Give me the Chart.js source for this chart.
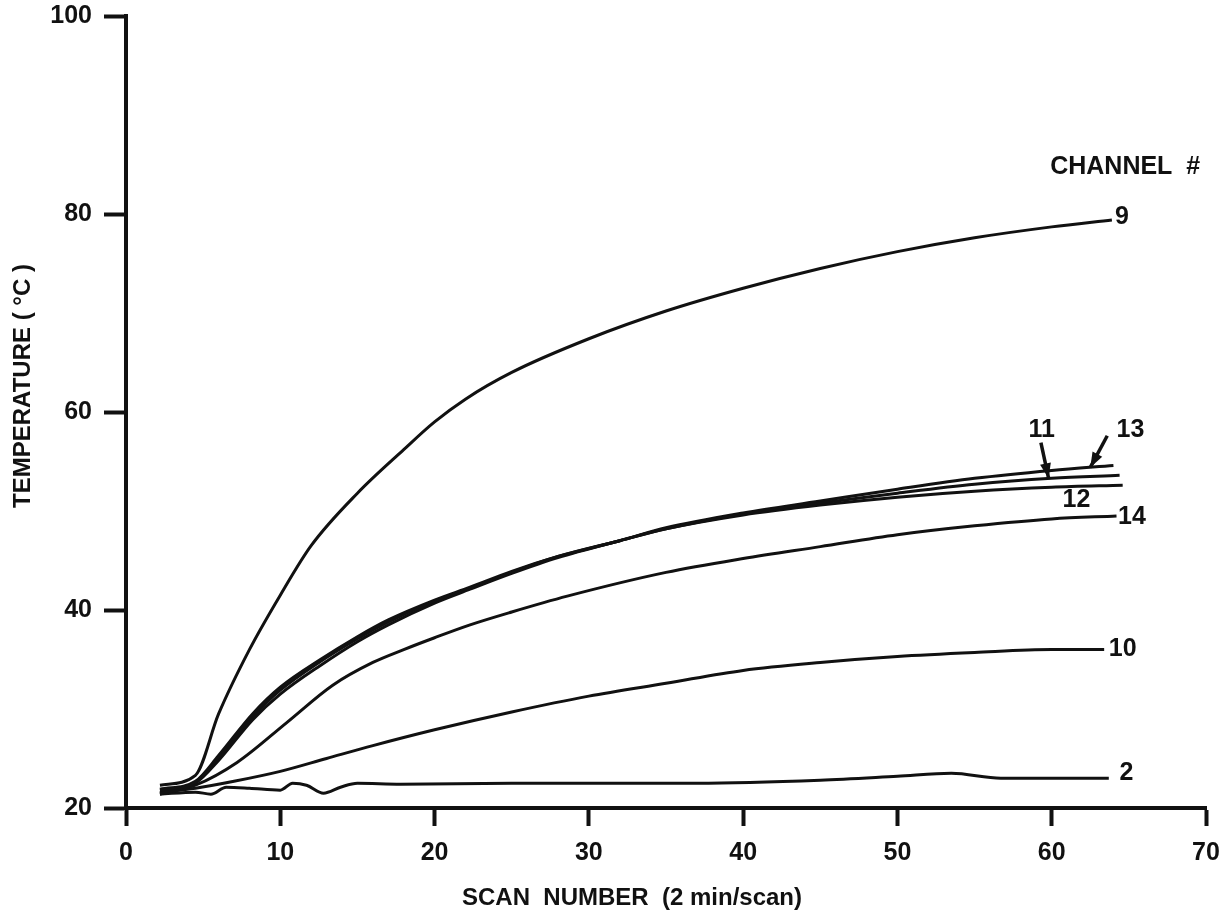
<!DOCTYPE html>
<html>
<head>
<meta charset="utf-8">
<script src="https://cdn.jsdelivr.net/npm/chart.js@4.4.1/dist/chart.umd.min.js"></script>
<style>
  html, body { margin: 0; padding: 0; background: #fff; }
  #wrap { width: 1228px; height: 923px; }
</style>
</head>
<body>
<div id="wrap"><canvas id="scanChart"></canvas></div>
<script>
// scan number (x) and temperature (y), one pair of arrays per channel
const ch9Scan  = [2.2, 4.5, 6, 8, 10, 12, 15, 18, 20, 22, 25, 30, 35, 40, 45, 50, 55, 60, 63.9];
const ch9Temp  = [22.3, 23.3, 29.5, 36, 41.5, 46.5, 51.8, 56.2, 59, 61.3, 64, 67.4, 70.2, 72.5, 74.5, 76.2, 77.6, 78.7, 79.4];

const ch11Scan = [2.2, 4.5, 6, 8.2, 10, 12.6, 15, 17, 20, 22.3, 25, 28, 32, 35, 40, 45, 50, 55, 60, 64.4];
const ch11Temp = [21.8, 22.6, 25.1, 29.2, 31.9, 34.8, 37.1, 38.8, 40.9, 42.2, 43.8, 45.4, 47, 48.2, 49.7, 50.8, 51.8, 52.7, 53.3, 53.6];
const ch12Scan = [2.2, 4.5, 6, 8.2, 10, 12.6, 15, 17, 20, 22.3, 25, 28, 32, 35, 40, 45, 50, 55, 60, 64.6];
const ch12Temp = [21.5, 22.5, 24.8, 28.9, 31.5, 34.4, 36.8, 38.5, 40.7, 42.1, 43.7, 45.3, 47, 48.2, 49.6, 50.6, 51.4, 52, 52.4, 52.6];
const ch13Scan = [2.2, 4.5, 6, 8.2, 10, 12.6, 15, 17, 20, 22.3, 25, 28, 32, 35, 40, 45, 50, 55, 60, 64];
const ch13Temp = [21.9, 22.7, 25.3, 29.5, 32.2, 35, 37.3, 39, 41, 42.3, 43.9, 45.4, 47, 48.3, 49.8, 51, 52.2, 53.3, 54.1, 54.6];

const ch14Scan = [2.2, 4.5, 7.2, 10.4, 13.4, 16, 18, 20, 22.3, 25, 28.6, 35, 40, 45, 50, 55, 60, 64.2];
const ch14Temp = [21.4, 22.3, 24.6, 28.6, 32.4, 34.7, 36.0, 37.2, 38.5, 39.8, 41.4, 43.8, 45.2, 46.4, 47.6, 48.5, 49.2, 49.5];

const ch10Scan = [2.2, 4.5, 7, 10, 13, 16, 20, 25, 30, 35, 40, 45, 50, 55, 60, 63.4];
const ch10Temp = [21.6, 22.0, 22.7, 23.7, 25.0, 26.3, 27.9, 29.7, 31.3, 32.6, 33.9, 34.7, 35.3, 35.7, 36.0, 36.0];

const ch2Scan  = [2.2, 4.5, 5.5, 6.5, 8, 10, 10.8, 11.7, 12.8, 13.9, 15, 17.8, 25, 30, 37, 45, 50, 53.5, 56.7, 60, 63.7];
const ch2Temp  = [21.4, 21.6, 21.4, 22.1, 22.0, 21.8, 22.5, 22.3, 21.5, 22.1, 22.5, 22.4, 22.5, 22.5, 22.5, 22.8, 23.2, 23.5, 23.0, 23.0, 23.0];

const xTicks = [0, 10, 20, 30, 40, 50, 60, 70];
const yTicks = [20, 40, 60, 80, 100];

// curve labels, anchored in data units (left edge, vertical middle)
const curveLabels = [
    { text: '9',  x: 64.1, y: 79.7 },
    { text: '10', x: 63.7, y: 36.0 },
    { text: '14', x: 64.3, y: 49.4 },
    { text: '2',  x: 64.4, y: 23.5 },
    { text: '12', x: 60.7, y: 51.1 },
    { text: '11', x: 58.5, y: 58.2 },
    { text: '13', x: 64.2, y: 58.2 },
    { text: 'CHANNEL  #', x: 59.9, y: 84.7 }
];
// arrows pointing 11 and 13 at their curves: [fromX, fromY, toX, toY]
const arrows = [
    [59.3, 56.9, 59.8, 53.3],
    [63.6, 57.6, 62.5, 54.4]
];

const FONT = "'Liberation Sans', Arial, sans-serif";
const INK = '#111';

function pts(xs, ys) {
    return xs.map((x, i) => ({ x: x, y: ys[i] }));
}
function line(label, xs, ys) {
    return {
        label: label,
        data: pts(xs, ys),
        borderColor: INK,
        borderWidth: 3,
        pointRadius: 0,
        fill: false,
        cubicInterpolationMode: 'monotone'
    };
}

const annotate = {
    id: 'annotate',
    afterDraw(chart) {
        const ctx = chart.ctx;
        const xs = chart.scales.x, ys = chart.scales.y;
        const area = chart.chartArea;
        ctx.save();
        ctx.fillStyle = INK;
        ctx.strokeStyle = INK;
        ctx.font = 'bold 25px ' + FONT;
        ctx.textAlign = 'left';
        ctx.textBaseline = 'middle';
        curveLabels.forEach(l => {
            ctx.fillText(l.text, xs.getPixelForValue(l.x), ys.getPixelForValue(l.y));
        });

        arrows.forEach(a => {
            const x1 = xs.getPixelForValue(a[0]), y1 = ys.getPixelForValue(a[1]);
            const x2 = xs.getPixelForValue(a[2]), y2 = ys.getPixelForValue(a[3]);
            ctx.lineWidth = 3.5;
            ctx.beginPath();
            ctx.moveTo(x1, y1);
            ctx.lineTo(x2, y2);
            ctx.stroke();
            const ang = Math.atan2(y2 - y1, x2 - x1);
            ctx.beginPath();
            ctx.moveTo(x2, y2);
            ctx.lineTo(x2 - 16 * Math.cos(ang - 0.35), y2 - 16 * Math.sin(ang - 0.35));
            ctx.lineTo(x2 - 16 * Math.cos(ang + 0.35), y2 - 16 * Math.sin(ang + 0.35));
            ctx.closePath();
            ctx.fill();
        });

        // axis titles
        ctx.font = 'bold 24px ' + FONT;
        ctx.textAlign = 'center';
        ctx.fillText('SCAN  NUMBER  (2 min/scan)', area.left + 506, 898);
        ctx.translate(23, 386);
        ctx.rotate(-Math.PI / 2);
        ctx.fillText('TEMPERATURE ( °C )', 0, 0);
        ctx.restore();
    }
};

new Chart(document.getElementById('scanChart'), {
    type: 'line',
    data: {
        datasets: [
            line('9', ch9Scan, ch9Temp),
            line('11', ch11Scan, ch11Temp),
            line('12', ch12Scan, ch12Temp),
            line('13', ch13Scan, ch13Temp),
            line('14', ch14Scan, ch14Temp),
            line('10', ch10Scan, ch10Temp),
            line('2', ch2Scan, ch2Temp)
        ]
    },
    options: {
        responsive: true,
        maintainAspectRatio: false,
        animation: false,
        layout: {
            padding: { left: 0, top: 16, right: 22, bottom: 0 }
        },
        plugins: {
            legend: { display: false },
            tooltip: { enabled: false }
        },
        scales: {
            x: {
                type: 'linear',
                min: 0,
                max: 70,
                afterBuildTicks: s => { s.ticks = xTicks.map(v => ({ value: v })); },
                afterFit: s => { s.height = 115; s.paddingLeft = 0; s.paddingRight = 0; },
                border: { display: true, color: INK, width: 4 },
                grid: {
                    drawOnChartArea: false,
                    drawTicks: true,
                    tickLength: 18,
                    tickWidth: 4,
                    tickColor: INK
                },
                ticks: {
                    color: INK,
                    padding: 12,
                    maxRotation: 0,
                    font: { family: FONT, size: 25, weight: 'bold' }
                }
            },
            y: {
                min: 20,
                max: 100,
                afterBuildTicks: s => { s.ticks = yTicks.map(v => ({ value: v })); },
                afterFit: s => { s.width = 126; s.paddingTop = 0; s.paddingBottom = 0; },
                border: { display: true, color: INK, width: 4 },
                grid: {
                    drawOnChartArea: false,
                    drawTicks: true,
                    tickLength: 22,
                    tickWidth: 4,
                    tickColor: INK
                },
                ticks: {
                    color: INK,
                    padding: 12,
                    font: { family: FONT, size: 25, weight: 'bold' }
                }
            }
        }
    },
    plugins: [annotate]
});
</script>
</body>
</html>
